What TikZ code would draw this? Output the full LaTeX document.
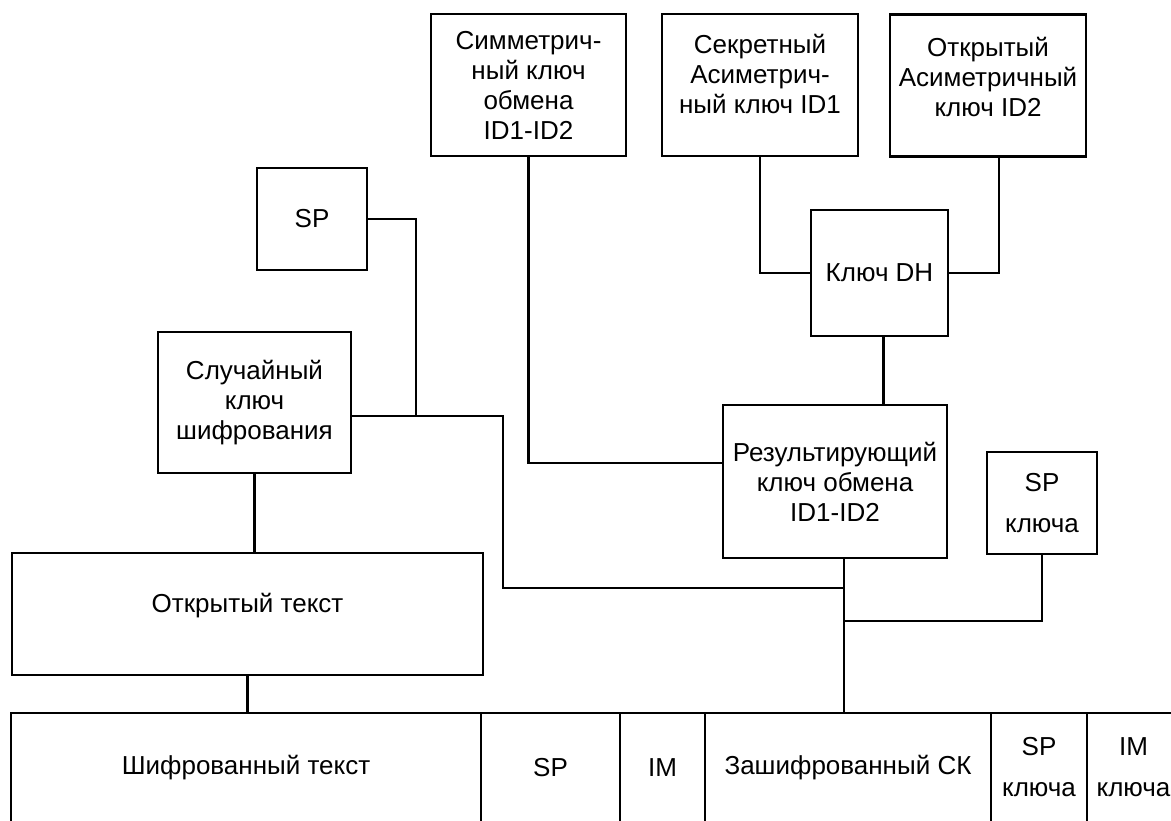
\documentclass[tikz,border=0pt]{standalone}
\usepackage{fontspec}
\setmainfont{Liberation Sans}
\begin{document}
\begin{tikzpicture}[x=0.5pt,y=-0.5pt,line width=1.2pt,
  blk/.style={draw,align=center,inner sep=0pt,font=\fontsize{13}{15}\selectfont},
  cell/.style={blk,minimum height=54.5pt}]
\useasboundingbox (0,0) rectangle (1171,820);
\clip (0,0) rectangle (1171,820);

\node[blk,minimum width=97.5pt,minimum height=71pt] (sym) at (528.5,85) {Симметрич-\\ный ключ\\обмена\\ID1-ID2};
\node[blk,minimum width=98pt,minimum height=71pt] (sec) at (760,85) {Секретный\\Асиметрич-\\ный ключ ID1\\[-4pt]};
\node[blk,minimum width=98pt,minimum height=71pt] (opn) at (988,85.5) {Открытый\\Асиметричный\\ключ ID2\\[-6pt]};
\node[blk,minimum width=55pt,minimum height=51pt] (sp) at (312,219) {SP};
\node[blk,minimum width=68.5pt,minimum height=63pt] (dh) at (879.5,273) {Ключ DH};
\node[blk,minimum width=96.5pt,minimum height=70.5pt] (rnd) at (254.5,402.5) {Случайный\\ключ\\шифрования};
\node[blk,minimum width=112pt,minimum height=76.5pt] (res) at (835,481.5) {Результирующий\\ключ обмена\\ID1-ID2};
\node[blk,minimum width=55pt,minimum height=51pt] (spk) at (1042,503) {SP\\[5.5pt]ключа};
\node[blk,minimum width=235.5pt,minimum height=61pt] (plain) at (247.5,614) {Открытый текст\\[-4pt]};

\node[cell,minimum width=235pt] (t1) at (246,767.5) {Шифрованный текст};
\node[cell,minimum width=69.5pt] (t2) at (550.5,767.5) {SP};
\node[cell,minimum width=42.5pt] (t3) at (662.5,767.5) {IM};
\node[cell,minimum width=143pt] (t4) at (848,767.5) {Зашифрованный СК};
\node[cell,minimum width=48pt] (t5) at (1039,767.5) {SP\\[5.5pt]ключа};
\node[cell,minimum width=46.5pt] (t6) at (1133.5,767.5) {IM\\[5.5pt]ключа};

\coordinate (j1) at (416,416);
\coordinate (k1) at (503,588);
\coordinate (j2) at (844,588);
\coordinate (j3) at (844,621);

\draw (sym.south) |- ([yshift=9.25pt]res.west);
\draw (sec.south) |- (dh.west);
\draw ([xshift=5.5pt]opn.south) |- (dh.east);
\draw ([xshift=2pt]dh.south) -- ([xshift=2pt]dh.south |- res.north);
\draw (sp.east) -| (j1);
\draw ([yshift=-6.75pt]rnd.east) -| (k1) -- (j2);
\draw (res.south -| j2) -- (j2 |- t4.north);
\draw (spk.south) |- (j3);
\draw (rnd.south) -- (rnd.south |- plain.north);
\draw (plain.south) -- (plain.south |- t1.north);

\end{tikzpicture}
\end{document}
